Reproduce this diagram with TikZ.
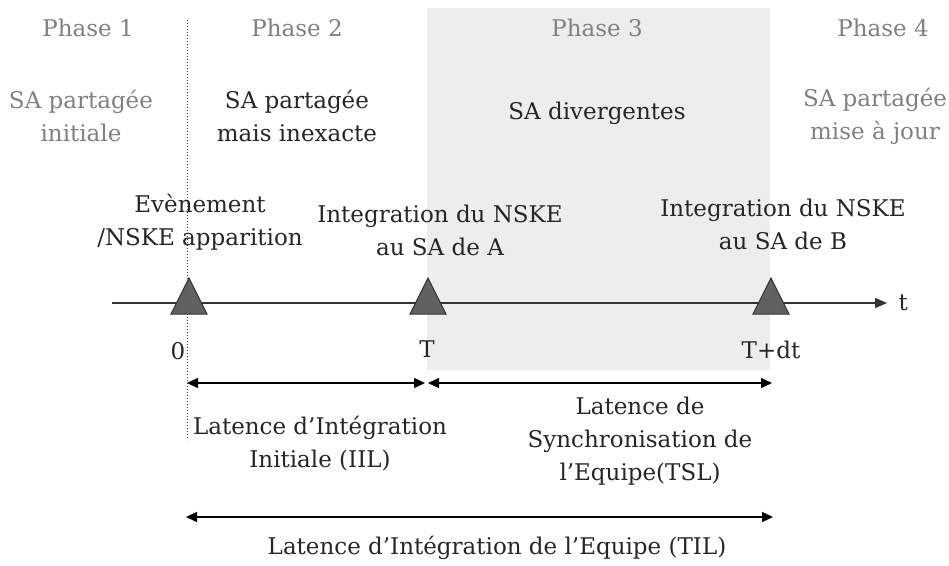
\documentclass[tikz,border=0pt]{standalone}
\usepackage{fontspec}
\setmainfont{DejaVu Serif}
\usetikzlibrary{arrows.meta,positioning}

\tikzset{
  lbl/.style={font=\fontsize{23}{33}\selectfont,align=center,text=black!85},
  faded/.style={lbl,text=black!50},
  span/.style={line width=1.4pt,{Triangle[length=11pt,width=10pt]}-{Triangle[length=11pt,width=10pt]}},
  evt/.style={fill=black!62,draw=black!80,line width=1pt},
}

\begin{document}
\begin{tikzpicture}[x=1pt,y=-1pt]

	\useasboundingbox (0,0) rectangle (949,565);

	% phase 3 band
	\fill[black!7] (427,8) rectangle (770,370);

	% event instants
	\coordinate (E0) at (189,303);
	\coordinate (E1) at (428,303);
	\coordinate (E2) at (771,303);
	\coordinate (start) at (112,303);
	\coordinate (tend) at (887,303);

	\draw[black!75,line width=1pt,dotted] (187,20) -- (187,440);

	% time axis
	\draw[black!80,line width=1.2pt,-{Triangle[length=12pt,width=10pt]}] (start) -- (tend);
	\node[lbl,anchor=west] (t) at (895,303) {t};

	\foreach \e in {E0,E1,E2}
		\draw[evt] (\e) ++(-18,11) -- ++(36,0) -- ++(-18,-36) -- cycle;

	% phases
	\node[faded] (ph1) at (88,28) {Phase 1};
	\node[faded] (ph2) at (297,28) {Phase 2};
	\node[faded] (ph3) at (597,28) {Phase 3};
	\node[faded] (ph4) at (883,28) {Phase 4};

	\node[faded] (sa1) at (81,116) {SA partagée\\initiale};
	\node[lbl] (sa2) at (297,116) {SA partagée\\mais inexacte};
	\node[lbl] (sa3) at (597,113) {SA divergentes};
	\node[faded] (sa4) at (875,116) {SA partagée\\mise à jour};

	% events
	\node[lbl] (ev0) at (200,222) {Evènement\\/NSKE apparition};
	\node[lbl] (ev1) at (440,230) {Integration du NSKE\\au SA de A};
	\node[lbl] (ev2) at (783,224) {Integration du NSKE\\au SA de B};

	\node[lbl] (z) at (178,351) {0};
	\node[lbl] (T) at (427,349) {T};
	\node[lbl] (Tdt) at (771,350) {T+dt};

	% latencies
	\coordinate (a0) at (187,383);
	\coordinate (a1) at (425,383);
	\coordinate (b0) at (428,383);
	\coordinate (b1) at (772,383);
	\coordinate (c0) at (186,517);
	\coordinate (c1) at (773,517);

	\draw[span] (a0) -- (a1);
	\draw[span] (b0) -- (b1);
	\draw[span] (c0) -- (c1);

	\node[lbl] (iil) at (320,444) {Latence d’Intégration\\Initiale (IIL)};
	\node[lbl] (tsl) at (640,441) {Latence de\\Synchronisation de\\l’Equipe(TSL)};
	\node[lbl] (til) at (497,548) {Latence d’Intégration de l’Equipe (TIL)};

\end{tikzpicture}
\end{document}
